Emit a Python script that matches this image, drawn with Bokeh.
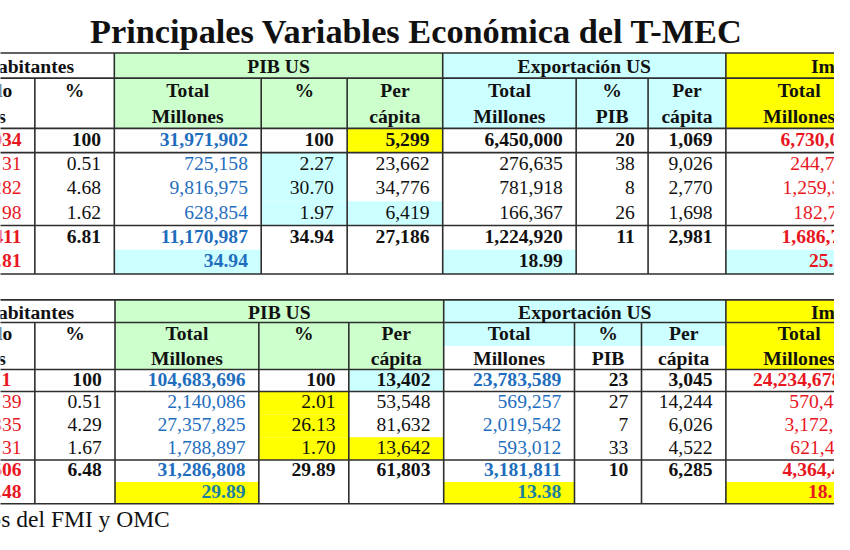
from collections import defaultdict
from bokeh.plotting import figure
from bokeh.models import Range1d, ColumnDataSource
from bokeh.core.properties import value
from bokeh.embed import file_html
from bokeh.resources import INLINE

# ---------------- data (as visible in the cropped table) ----------------
title_text = "Principales Variables Económica del T-MEC"
source_note = "Fuente: Datos del FMI y OMC"

group_headers = ["Habitantes", "PIB US", "Exportación US", "Importación US"]
col_headers = [["lo", "s"], ["%"], ["Total", "Millones"], ["%"], ["Per", "cápita"],
               ["Total", "Millones"], ["%", "PIB"], ["Per", "cápita"], ["Total", "Millones"]]

# Table 1
t1_hab_total = ["034", "31", "282", "98", "411", ".81"]
t1_hab_pct = ["100", "0.51", "4.68", "1.62", "6.81", ""]
t1_pib_total = ["31,971,902", "725,158", "9,816,975", "628,854", "11,170,987", "34.94"]
t1_pib_pct = ["100", "2.27", "30.70", "1.97", "34.94", ""]
t1_pib_pc = ["5,299", "23,662", "34,776", "6,419", "27,186", ""]
t1_exp_total = ["6,450,000", "276,635", "781,918", "166,367", "1,224,920", "18.99"]
t1_exp_pct = ["20", "38", "8", "26", "11", ""]
t1_exp_pc = ["1,069", "9,026", "2,770", "1,698", "2,981", ""]
t1_imp_total = ["6,730,0", "244,7", "1,259,3", "182,7", "1,686,7", "25."]

# Table 2
t2_hab_total = ["1", "39", "335", "31", "506", ".48"]
t2_hab_pct = ["100", "0.51", "4.29", "1.67", "6.48", ""]
t2_pib_total = ["104,683,696", "2,140,086", "27,357,825", "1,788,897", "31,286,808", "29.89"]
t2_pib_pct = ["100", "2.01", "26.13", "1.70", "29.89", ""]
t2_pib_pc = ["13,402", "53,548", "81,632", "13,642", "61,803", ""]
t2_exp_total = ["23,783,589", "569,257", "2,019,542", "593,012", "3,181,811", "13.38"]
t2_exp_pct = ["23", "27", "7", "33", "10", ""]
t2_exp_pc = ["3,045", "14,244", "6,026", "4,522", "6,285", ""]
t2_imp_total = ["24,234,678", "570,4", "3,172,5", "621,4", "4,364,4", "18."]

table1 = [t1_hab_total, t1_hab_pct, t1_pib_total, t1_pib_pct, t1_pib_pc,
          t1_exp_total, t1_exp_pct, t1_exp_pc, t1_imp_total]
table2 = [t2_hab_total, t2_hab_pct, t2_pib_total, t2_pib_pct, t2_pib_pc,
          t2_exp_total, t2_exp_pct, t2_exp_pc, t2_imp_total]

# ---------------- style / layout ----------------
FONT = "Liberation Serif"
TABLE_PX = "19.6px"
RED = "#E8161E"
BLUE = "#1F6EBE"
TEAL = "#1A80A0"
BLACK = "#111111"
GREEN_BG = "#CCFFCC"
CYAN_BG = "#CCFFFF"
YELLOW_BG = "#FFFF00"
LINE = "#2E2E2E"
PAD = 13.5

W, H = 850, 550
p = figure(width=834, height=534, x_range=Range1d(0, W), y_range=Range1d(H, 0),
           output_backend="svg", toolbar_location=None, min_border=0,
           x_axis_location=None, y_axis_location=None)
p.xgrid.visible = False
p.ygrid.visible = False
p.outline_line_color = None
p.background_fill_color = "white"
p.border_fill_color = "white"

layouts = [
    dict(data=table1,
         cols=[-40, 35, 116, 265.7, 353.3, 450.7, 586.7, 660, 739.3, 886.5],
         group=(54, 80), header=(80, 131.7),
         rows=[131.7, 156.7, 181.7, 206.7, 231.7, 256.7, 281.7],
         hlines=[54, 80, 131.7, 156.7, 231.7, 281.7],
         col_colors=[RED, BLACK, BLUE, BLACK, BLACK, BLACK, BLACK, BLACK, RED],
         last_colors={2: BLUE, 5: BLACK, 8: RED},
         cell_bg={(0, 4): YELLOW_BG, (1, 3): CYAN_BG, (2, 3): CYAN_BG,
                  (3, 3): CYAN_BG, (3, 4): CYAN_BG, (5, 2): CYAN_BG,
                  (5, 5): CYAN_BG, (5, 8): CYAN_BG},
         export_header_split=False,
         right_override={},
         imp_left=[795, 805, 797, 808, 796, 824]),
    dict(data=table2,
         cols=[-40, 35, 116.7, 263.3, 355, 451.7, 585, 653.3, 739.3, 886.5],
         group=(308.3, 331.7), header=(331.7, 380),
         rows=[380, 402.7, 426.2, 449.8, 473.3, 496, 518.3],
         hlines=[308.3, 331.7, 380, 402.7, 473.3, 518.3],
         col_colors=[RED, BLACK, BLUE, BLACK, BLACK, BLUE, BLACK, BLACK, RED],
         last_colors={2: TEAL, 5: TEAL, 8: RED},
         cell_bg={(0, 4): CYAN_BG, (1, 3): YELLOW_BG, (2, 3): YELLOW_BG,
                  (3, 3): YELLOW_BG, (3, 4): YELLOW_BG, (5, 2): YELLOW_BG,
                  (5, 5): YELLOW_BG, (5, 8): YELLOW_BG},
         export_header_split=True,
         right_override={(0, 0): 11},
         imp_left=[767, 804, 799, 805, 797, 823]),
]

texts = defaultdict(lambda: dict(x=[], y=[], text=[], color=[]))


def add_text(x, y, s, color=BLACK, bold=True, align="right", size=TABLE_PX, baseline="middle"):
    g = texts[(align, bold, size, baseline)]
    g["x"].append(x)
    g["y"].append(y)
    g["text"].append(s)
    g["color"].append(color)


quads = dict(left=[], right=[], top=[], bottom=[], color=[])


def add_quad(l, r, t, b, c):
    quads["left"].append(l)
    quads["right"].append(r)
    quads["top"].append(t)
    quads["bottom"].append(b)
    quads["color"].append(c)


segs = dict(x0=[], y0=[], x1=[], y1=[])


def add_seg(x0, y0, x1, y1):
    segs["x0"].append(x0)
    segs["y0"].append(y0)
    segs["x1"].append(x1)
    segs["y1"].append(y1)


for L in layouts:
    cols = L["cols"]
    gt, gb = L["group"]
    ht, hb = L["header"]
    rows = L["rows"]
    top, bottom = L["hlines"][0], L["hlines"][-1]
    # group header backgrounds
    add_quad(cols[2], cols[5], gt, gb, GREEN_BG)
    add_quad(cols[5], cols[8], gt, gb, CYAN_BG)
    add_quad(cols[8], cols[9] + 50, gt, gb, YELLOW_BG)
    # column header backgrounds
    add_quad(cols[2], cols[5], ht, hb, GREEN_BG)
    if L["export_header_split"]:
        add_quad(cols[5], cols[8], ht, (ht + hb) / 2, CYAN_BG)
    else:
        add_quad(cols[5], cols[8], ht, hb, CYAN_BG)
    add_quad(cols[8], cols[9] + 50, ht, hb, YELLOW_BG)
    # cell backgrounds
    for (r, c), colr in L["cell_bg"].items():
        right = cols[c + 1] + (50 if c == 8 else 0)
        add_quad(cols[c], right, rows[r], rows[r + 1], colr)
    # grid lines
    for y in L["hlines"]:
        add_seg(-20, y, 900, y)
    for c in (2, 5, 8):
        add_seg(cols[c], top, cols[c], bottom)
    for c in (1, 3, 4, 6, 7):
        add_seg(cols[c], ht, cols[c], bottom)
    # group header texts
    gy = (gt + gb) / 2 + 1
    add_text(75, gy, group_headers[0], align="right")
    add_text((cols[2] + cols[5]) / 2, gy, group_headers[1], align="center")
    add_text((cols[5] + cols[8]) / 2, gy, group_headers[2], align="center")
    add_text(826, gy, group_headers[3], align="left")
    # column header texts
    hc = (ht + hb) / 2
    off = 0.26 * (hb - ht)
    line_y = [hc - off, hc + off]
    add_text(12, line_y[0], col_headers[0][0], align="right")
    add_text(5.5, line_y[1], col_headers[0][1], align="right")
    for c in range(1, 9):
        cx = (cols[c] + cols[c + 1]) / 2
        if c == 8:
            cx = 814
        for i, s in enumerate(col_headers[c]):
            add_text(cx, line_y[i], s, align="center")
    # data cells
    for c, colvals in enumerate(L["data"]):
        for r, s in enumerate(colvals):
            if not s:
                continue
            bold = r in (0, 4, 5)
            color = L["col_colors"][c]
            if r == 5 and c in L["last_colors"]:
                color = L["last_colors"][c]
            ty = (rows[r] + rows[r + 1]) / 2 - 1.2
            if c == 8:
                add_text(L["imp_left"][r], ty, s, color=color, bold=bold, align="left")
            else:
                xr = L["right_override"].get((r, c), cols[c + 1] - PAD)
                add_text(xr, ty, s, color=color, bold=bold, align="right")

p.quad(left="left", right="right", top="top", bottom="bottom", fill_color="color",
       line_color=None, source=ColumnDataSource(quads))
p.segment(x0="x0", y0="y0", x1="x1", y1="y1", line_color=LINE, line_width=1.6,
          source=ColumnDataSource(segs))

# title and source note
add_text(424, 31.5, title_text, align="center", size="34.3px")
add_text(172.5, 534.5, source_note, bold=False, align="right", size="23.5px")

for (align, bold, size, baseline), d in texts.items():
    p.text(x="x", y="y", text="text", text_color="color", source=ColumnDataSource(d),
           text_align=align, text_baseline=baseline, text_font=value(FONT),
           text_font_size=value(size), text_font_style="bold" if bold else "normal")

open("out.html", "w").write(file_html(p, INLINE))
